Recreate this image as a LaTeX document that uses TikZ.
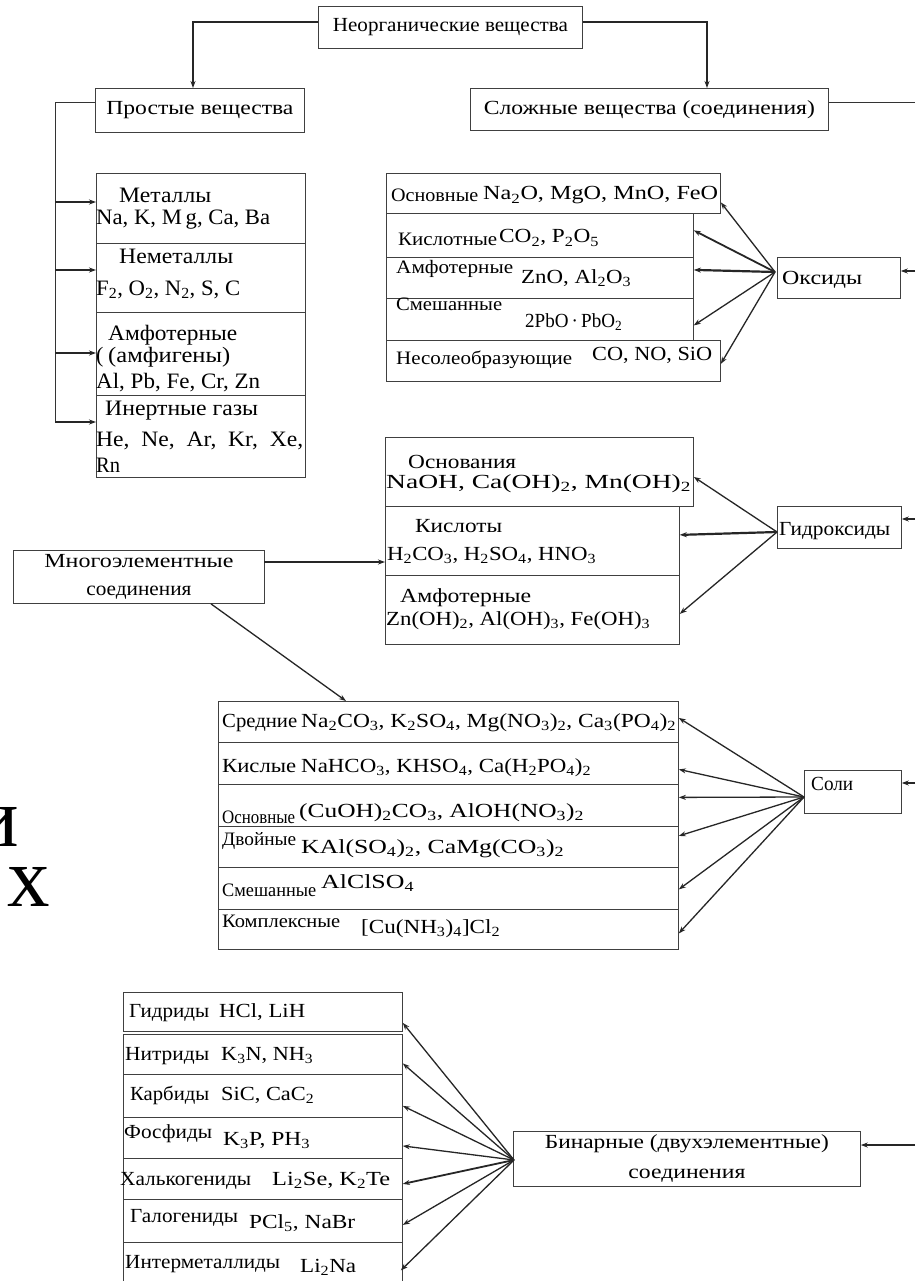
\documentclass[tikz,border=0pt]{standalone}
\usepackage{fontspec}
\setmainfont{Liberation Serif}
\usetikzlibrary{arrows.meta,calc}
\newcommand{\sbs}[1]{\textsubscript{#1}}
\newcommand{\tw}[2]{\resizebox{#1pt}{\height}{#2}}
\newcommand{\myfs}{\fontsize{20}{23}\selectfont}
\begin{document}
\begin{tikzpicture}[x=1pt,y=-1pt,
  box/.style={draw=black!75,line width=0.8pt,inner sep=0pt,anchor=north west,font=\myfs,align=center},
  txt/.style={anchor=base west,inner sep=0pt,font=\myfs},
  ltxt/.style={txt,font=\fontsize{22}{24}\selectfont},
  stxt/.style={txt,font=\fontsize{19}{22}\selectfont},
  ln/.style={draw=black!80,line width=1pt},
  arr/.style={draw=black!85,line width=1.3pt,-{Stealth[length=7pt,width=5pt]}},
  tarr/.style={arr,line width=2.2pt}]
\fill[white] (0,0) rectangle (915,1281);
\useasboundingbox (0,0) rectangle (915,1281);
\clip (0,0) rectangle (915,1281);

% big stray letters at left edge
\node[anchor=base east,inner sep=0pt,font=\fontsize{85}{90}\selectfont] (bigi) at (19,846) {и};
\node[anchor=base east,inner sep=0pt,font=\fontsize{85}{90}\selectfont] (bigx) at (50,906) {х};

% top level
\node[box,minimum width=264pt,minimum height=42pt] (inorg) at (318,6) {\tw{235}{Неорганические вещества}};
\node[box,minimum width=209pt,minimum height=44pt] (prost) at (95,88) {\tw{187}{Простые вещества}};
\node[box,minimum width=358pt,minimum height=42pt] (slozh) at (470,88) {\tw{331}{Сложные вещества (соединения)}};
\coordinate (c1) at (193,22);
\coordinate (c2) at (707,22);
\draw[arr] (inorg.west |- c1) -- (c1) -- (c1 |- prost.north);
\draw[arr] (inorg.east |- c2) -- (c2) -- (c2 |- slozh.north);
\coordinate (r0) at (915,103);
\draw[ln] (slozh.east |- r0) -- (r0);

% simple substances
\node[box,minimum width=209pt,minimum height=70pt] (m1) at (96,173) {};
\node[box,minimum width=209pt,minimum height=69pt] (m2) at (96,243) {};
\node[box,minimum width=209pt,minimum height=83pt] (m3) at (96,312) {};
\node[box,minimum width=209pt,minimum height=82pt] (m4) at (96,395) {};
\coordinate (c3) at (55,103);
\coordinate (c4) at (55,422);
\draw[ln] (prost.west |- c3) -- (c3) -- (c4);
\coordinate (a1) at (55,202);
\coordinate (a2) at (55,270);
\coordinate (a3) at (55,353);
\draw[tarr] (a1) -- (a1 -| m1.west);
\draw[tarr] (a2) -- (a2 -| m2.west);
\draw[tarr] (a3) -- (a3 -| m3.west);
\draw[tarr] (c4) -- (c4 -| m4.west);
\node[ltxt] (t11) at (119,203) {\tw{92}{Металлы}};
\node[ltxt] (t12) at (96,225) {\tw{174}{Na, K, M\,g, Ca, Ba}};
\node[ltxt] (t21) at (119,263) {\tw{114}{Неметаллы}};
\node[ltxt] (t22) at (96,295) {\tw{144}{F\sbs{2}, O\sbs{2}, N\sbs{2}, S, C}};
\node[ltxt] (t31) at (108,340) {\tw{129}{Амфотерные}};
\node[ltxt] (t32a) at (96,362) {(};
\node[ltxt] (t32) at (108,362) {\tw{122}{(амфигены)}};
\node[ltxt] (t33) at (96,388) {\tw{164}{Al, Pb, Fe, Cr, Zn}};
\node[ltxt] (t41) at (105,415) {\tw{153}{Инертные газы}};
\node[ltxt] (t42) at (96,446) {\tw{207}{He,\ \ Ne,\ \ Ar,\ \ Kr,\ \ Xe,}};
\node[ltxt] (t43) at (96,472) {\tw{24}{Rn}};

% oxides
\node[box,minimum width=334pt,minimum height=40pt] (ox1) at (386,173) {};
\node[box,minimum width=307pt,minimum height=44pt] (ox2) at (386,213) {};
\node[box,minimum width=307pt,minimum height=41pt] (ox3) at (386,257) {};
\node[box,minimum width=307pt,minimum height=42pt] (ox4) at (386,298) {};
\node[box,minimum width=334pt,minimum height=41pt] (ox5) at (386,340) {};
\node[box,minimum width=123pt,minimum height=41pt] (oks) at (777,257) {};
\node[txt] (okst) at (782,284) {\tw{80}{Оксиды}};
\node[stxt] (o11) at (391,202) {\tw{87}{Основные}};
\node[txt] (o12) at (483,200) {\tw{235}{Na\sbs{2}O, MgO, MnO, FeO}};
\node[stxt] (o21) at (398,246) {\tw{99}{Кислотные}};
\node[txt] (o22) at (499,243) {\tw{100}{CO\sbs{2}, P\sbs{2}O\sbs{5}}};
\node[stxt] (o31) at (396,273) {\tw{117}{Амфотерные}};
\node[txt] (o32) at (521,283) {\tw{110}{ZnO, Al\sbs{2}O\sbs{3}}};
\node[stxt] (o41) at (396,310) {\tw{106}{Смешанные}};
\node[txt] (o42) at (525,327) {\tw{97}{2PbO\,·\,PbO\sbs{2}}};
\node[stxt] (o51) at (396,364) {\tw{176}{Несолеобразующие}};
\node[txt] (o52) at (592,360) {\tw{120}{CO, NO, SiO}};
\coordinate (ko) at (775,272);
\draw[arr] (ko) -- ([yshift=-9pt]ox1.east);
\draw[tarr,line width=1.8pt] (ko) -- ([yshift=5pt]ox2.east);
\draw[tarr] (ko) -- ([yshift=8pt]ox3.east);
\draw[arr] (ko) -- ([yshift=-6pt]ox4.east);
\draw[arr] (ko) -- ([yshift=-3pt]ox5.east);
\coordinate (r1) at (915,271);
\draw[arr] (r1) -- (r1 -| oks.east);

% hydroxides
\node[box,minimum width=308pt,minimum height=69pt] (h1) at (385,437) {};
\node[box,minimum width=294pt,minimum height=69pt] (h2) at (385,506) {};
\node[box,minimum width=294pt,minimum height=69pt] (h3) at (385,575) {};
\node[box,minimum width=124pt,minimum height=42pt] (gidr) at (777,506) {};
\node[txt] (gidrt) at (779,535) {\tw{111}{Гидроксиды}};
\node[txt] (h11) at (408,468) {\tw{108}{Основания}};
\node[txt] (h12) at (386,488) {\tw{305}{NaOH, Ca(OH)\sbs{2}, Mn(OH)\sbs{2}}};
\node[txt] (h21) at (415,532) {\tw{87}{Кислоты}};
\node[txt] (h22) at (387,560) {\tw{209}{H\sbs{2}CO\sbs{3}, H\sbs{2}SO\sbs{4}, HNO\sbs{3}}};
\node[txt] (h31) at (400,602) {\tw{131}{Амфотерные}};
\node[txt] (h32) at (386,625) {\tw{264}{Zn(OH)\sbs{2}, Al(OH)\sbs{3}, Fe(OH)\sbs{3}}};
\coordinate (kg) at (777,532);
\draw[arr] (kg) -- ([yshift=-5pt]h1.east);
\draw[tarr] (kg) -- ([yshift=6pt]h2.east);
\draw[arr] (kg) -- ([yshift=-4pt]h3.east);
\coordinate (r2) at (915,519);
\draw[arr] (r2) -- (r2 -| gidr.east);

% multi-element compounds
\node[box,minimum width=251pt,minimum height=53pt,font=\fontsize{20}{28}\selectfont] (mnogo) at (13,550) {\tw{189}{Многоэлементные}\\\tw{105}{соединения}};
\coordinate (m0) at (264,562);
\draw[tarr] (m0) -- (m0 -| h2.west);

% salts
\node[box,minimum width=460pt,minimum height=41pt] (s1) at (218,701) {};
\node[box,minimum width=460pt,minimum height=42pt] (s2) at (218,742) {};
\node[box,minimum width=460pt,minimum height=42pt] (s3) at (218,784) {};
\node[box,minimum width=460pt,minimum height=41pt] (s4) at (218,826) {};
\node[box,minimum width=460pt,minimum height=42pt] (s5) at (218,867) {};
\node[box,minimum width=460pt,minimum height=40pt] (s6) at (218,909) {};
\node[box,minimum width=97pt,minimum height=43pt] (soli) at (804,770) {};
\node[txt] (solit) at (811,790) {\tw{42}{Соли}};
\draw[arr] ([xshift=72pt]mnogo.south) -- ([xshift=128pt]s1.north west);
\node[txt] (s11) at (222,727) {\tw{75}{Средние}};
\node[txt] (s12) at (301,727) {\tw{375}{Na\sbs{2}CO\sbs{3}, K\sbs{2}SO\sbs{4}, Mg(NO\sbs{3})\sbs{2}, Ca\sbs{3}(PO\sbs{4})\sbs{2}}};
\node[txt] (s21) at (222,772) {\tw{74}{Кислые}};
\node[txt] (s22) at (301,772) {\tw{290}{NaHCO\sbs{3}, KHSO\sbs{4}, Ca(H\sbs{2}PO\sbs{4})\sbs{2}}};
\node[stxt] (s31) at (222,823) {\tw{73}{Основные}};
\node[txt] (s32) at (299,817) {\tw{285}{(CuOH)\sbs{2}CO\sbs{3}, AlOH(NO\sbs{3})\sbs{2}}};
\node[stxt] (s41) at (222,845) {\tw{74}{Двойные}};
\node[txt] (s42) at (301,853) {\tw{263}{KAl(SO\sbs{4})\sbs{2}, CaMg(CO\sbs{3})\sbs{2}}};
\node[stxt] (s51) at (222,896) {\tw{94}{Смешанные}};
\node[txt] (s52) at (321,888) {\tw{93}{AlClSO\sbs{4}}};
\node[stxt] (s61) at (222,927) {\tw{118}{Комплексные}};
\node[txt] (s62) at (361,933) {\tw{139}{[Cu(NH\sbs{3})\sbs{4}]Cl\sbs{2}}};
\coordinate (ks) at (804,797);
\draw[arr] (ks) -- ([yshift=4pt]s1.east);
\draw[arr] (ks) -- ([yshift=-6pt]s2.east);
\draw[arr] (ks) -- ([yshift=8pt]s3.east);
\draw[arr] (ks) -- ([yshift=11pt]s4.east);
\draw[arr] (ks) -- ([yshift=-1pt]s5.east);
\draw[arr] (ks) -- ([yshift=-4pt]s6.east);
\coordinate (r3) at (915,783);
\draw[arr] (r3) -- (r3 -| soli.east);

% binary compounds
\node[box,minimum width=279pt,minimum height=39pt] (b1) at (123,992) {};
\node[box,minimum width=279pt,minimum height=40pt] (b2) at (123,1034) {};
\node[box,minimum width=279pt,minimum height=43pt] (b3) at (123,1074) {};
\node[box,minimum width=279pt,minimum height=41pt] (b4) at (123,1117) {};
\node[box,minimum width=279pt,minimum height=41pt] (b5) at (123,1158) {};
\node[box,minimum width=279pt,minimum height=43pt] (b6) at (123,1199) {};
\node[box,minimum width=279pt,minimum height=48pt] (b7) at (123,1242) {};
\node[box,minimum width=347pt,minimum height=55pt,font=\fontsize{20}{30}\selectfont] (bin) at (513,1131) {\tw{284}{Бинарные (двухэлементные)}\\\tw{117}{соединения}};
\node[txt] (b11) at (129,1017) {\tw{80}{Гидриды}};
\node[txt] (b12) at (219,1017) {\tw{86}{HCl, LiH}};
\node[txt] (b21) at (125,1060) {\tw{84}{Нитриды}};
\node[txt] (b22) at (221,1060) {\tw{92}{K\sbs{3}N, NH\sbs{3}}};
\node[txt] (b31) at (130,1100) {\tw{79}{Карбиды}};
\node[txt] (b32) at (221,1100) {\tw{93}{SiC, CaC\sbs{2}}};
\node[txt] (b41) at (124,1138) {\tw{88}{Фосфиды}};
\node[txt] (b42) at (223,1145) {\tw{87}{K\sbs{3}P, PH\sbs{3}}};
\node[txt] (b51) at (120,1185) {\tw{131}{Халькогениды}};
\node[txt] (b52) at (272,1185) {\tw{118}{Li\sbs{2}Se, K\sbs{2}Te}};
\node[txt] (b61) at (130,1222) {\tw{108}{Галогениды}};
\node[txt] (b62) at (249,1228) {\tw{106}{PCl\sbs{5}, NaBr}};
\node[txt] (b71) at (125,1268) {\tw{155}{Интерметаллиды}};
\node[txt] (b72) at (300,1272) {\tw{56}{Li\sbs{2}Na}};
\coordinate (kb) at (514,1160);
\draw[arr] (kb) -- ([yshift=-11pt]b1.east);
\draw[arr] (kb) -- ([yshift=-9pt]b2.east);
\draw[arr] (kb) -- ([yshift=-10pt]b3.east);
\draw[arr] (kb) -- ([yshift=-8pt]b4.east);
\draw[tarr,line width=1.8pt] (kb) -- ([yshift=-5pt]b5.east);
\draw[arr] (kb) -- ([yshift=-4pt]b6.east);
\draw[arr] (kb) -- ([xshift=-2pt,yshift=-4pt]b7.east);
\coordinate (r4) at (915,1145);
\draw[tarr] (r4) -- (r4 -| bin.east);
\end{tikzpicture}
\end{document}
